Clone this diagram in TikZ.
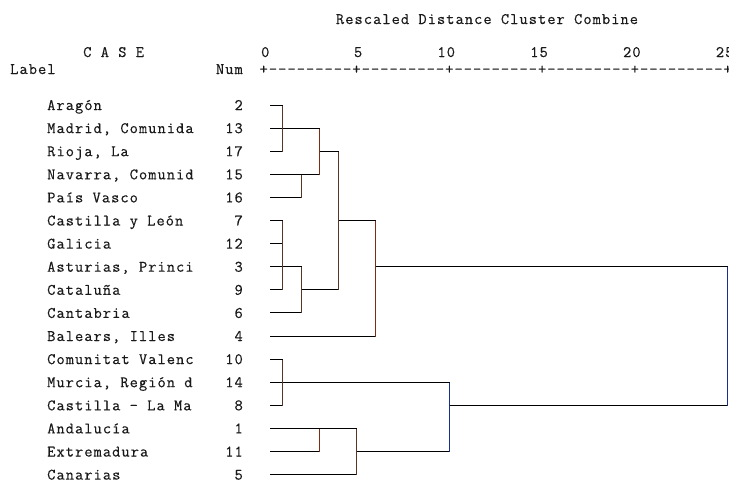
\documentclass[tikz,border=0pt]{standalone}
\usepackage{fontspec}
\setmonofont{Latin Modern Mono}[LetterSpace=6.5, FakeBold=0.4]
\usetikzlibrary{positioning}

\definecolor{ink}{RGB}{25,25,25}
\definecolor{stembrown}{RGB}{85,55,40}
\definecolor{stemred}{RGB}{125,45,20}
\definecolor{stemblue}{RGB}{25,45,150}

\tikzset{
    txt/.style={font=\ttfamily\fontsize{16}{18}\selectfont, text=ink, inner sep=0pt},
    link/.style={draw=black, line width=1.1pt},
    stem/.style={draw=stembrown, line width=1.1pt},
}

\begin{document}
\begin{tikzpicture}[x=1pt,y=-1pt]
        \useasboundingbox (0,0) rectangle (729,482);

        % heading
        \node[txt,anchor=base] (title) at (487,24) {Rescaled Distance Cluster Combine};
        \node[txt,anchor=base west] (case) at (83,57) {C A S E};
        \node[txt,anchor=base west] (label) at (10,74) {Label};
        \node[txt,anchor=base east] (num) at (243,74) {Num};
        \foreach \d in {0,5,...,25}
            \node[txt,anchor=base east] (t\d) at ({269.6+18.56*\d},57) {\d};
        \node[txt,anchor=base west] (axis) at (259.4,74) {+---------+---------+---------+---------+---------+};

        % distance levels
        \foreach \k/\d in {h1/1,h2/2,h3/3,h4/4,h5/5,h6/6,h10/10}
            \coordinate (\k) at ({floor(264+18.56*\d)+0.5},0);
        \coordinate (h25) at (727.5,0);

        % cases
        \foreach \i/\lab/\cnum in {1/Aragón/2, 2/{Madrid, Comunida}/13, 3/{Rioja, La}/17,
            4/{Navarra, Comunid}/15, 5/País Vasco/16, 6/Castilla y León/7, 7/Galicia/12,
            8/{Asturias, Princi}/3, 9/Cataluña/9, 10/Cantabria/6, 11/{Balears, Illes}/4,
            12/Comunitat Valenc/10, 13/{Murcia, Región d}/14, 14/Castilla - La Ma/8,
            15/Andalucía/1, 16/Extremadura/11, 17/Canarias/5} {
            \node[txt,anchor=base west] (lab\cnum) at (47,{110+23.1*(\i-1)}) {\lab};
            \node[txt,anchor=base east] (num\cnum) at (243,{110+23.1*(\i-1)}) {\cnum};
            \coordinate (c\cnum) at (270,{floor(105+23.1*(\i-1))+0.5});
        }

        % 2, 13, 17 and 15, 16
        \draw[link] (c2) -- (c2 -| h1) (c17) -- (c17 -| h1) (c13) -- (c13 -| h3);
        \draw[stem] (c2 -| h1) -- (c17 -| h1);
        \draw[link] (c15) -- (c15 -| h3) (c16) -- (c16 -| h2);
        \draw[stem] (c15 -| h2) -- (c16 -| h2);
        \draw[stem,draw=stemred] (c13 -| h3) -- (c15 -| h3);
        \draw[link] (c17 -| h3) -- (c17 -| h4);

        % 7, 12, 3, 9 and 6
        \draw[link] (c7) -- (c7 -| h1) (c12) -- (c12 -| h1) (c9) -- (c9 -| h1) (c3) -- (c3 -| h2);
        \draw[stem] (c7 -| h1) -- (c9 -| h1);
        \draw[link] (c6) -- (c6 -| h2);
        \draw[stem] (c3 -| h2) -- (c6 -| h2);
        \draw[link] (c9 -| h2) -- (c9 -| h4);
        \draw[stem] (c17 -| h4) -- (c9 -| h4);
        \draw[link] (c7 -| h4) -- (c7 -| h6);

        % 4
        \draw[link] (c4) -- (c4 -| h6);
        \draw[stem,draw=stemred] (c7 -| h6) -- (c4 -| h6);
        \draw[link] (c3 -| h6) -- (c3 -| h25);

        % 10, 14, 8
        \draw[link] (c10) -- (c10 -| h1) (c8) -- (c8 -| h1) (c14) -- (c14 -| h10);
        \draw[stem] (c10 -| h1) -- (c8 -| h1);

        % 1, 11 and 5
        \draw[link] (c1) -- (c1 -| h5) (c11) -- (c11 -| h3);
        \draw[stem,draw=stemred] (c1 -| h3) -- (c11 -| h3);
        \draw[link] (c5) -- (c5 -| h5);
        \draw[stem] (c1 -| h5) -- (c5 -| h5);
        \draw[link] (c11 -| h5) -- (c11 -| h10);

        % top joins
        \draw[stem,draw=stemblue] (c14 -| h10) -- (c11 -| h10);
        \draw[link] (c8 -| h10) -- (c8 -| h25);
        \draw[stem,draw=stemblue] (c3 -| h25) -- (c8 -| h25);
    \end{tikzpicture}
\end{document}
